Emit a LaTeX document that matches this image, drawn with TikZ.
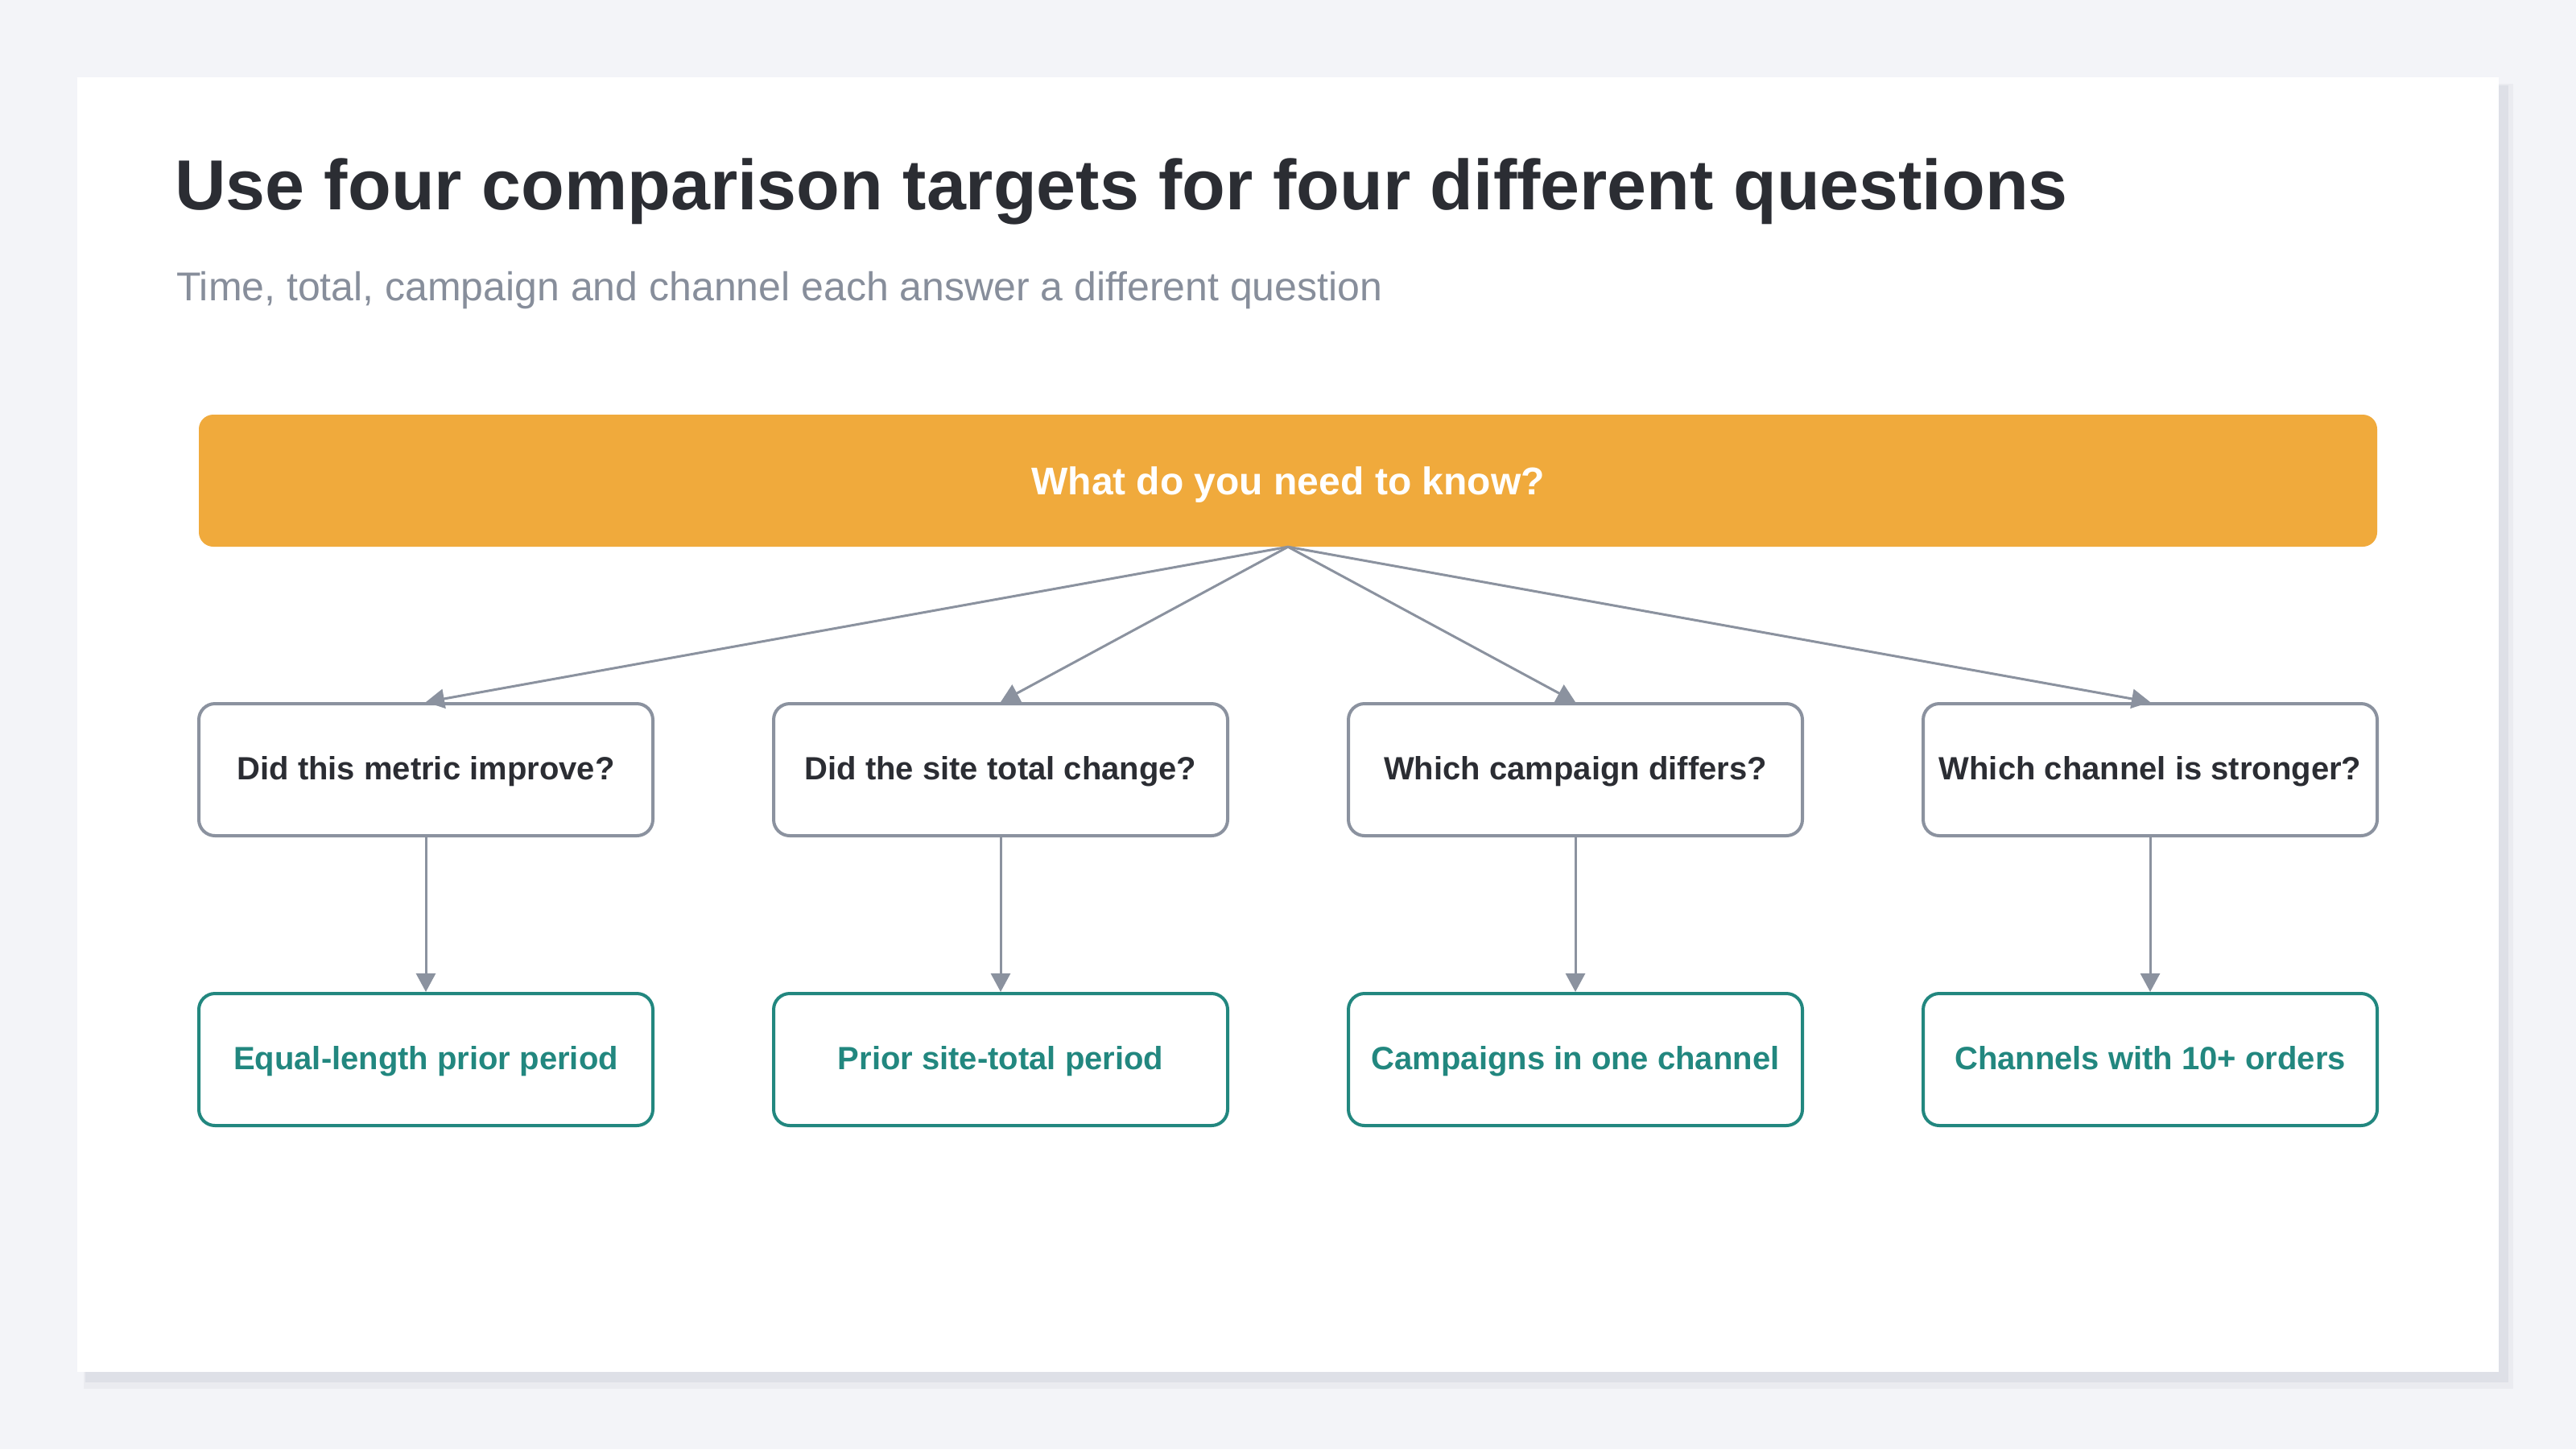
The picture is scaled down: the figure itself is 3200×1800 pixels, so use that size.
\documentclass[tikz,border=0pt]{standalone}
\usepackage{fontspec}
\setmainfont{Liberation Sans}
\usetikzlibrary{arrows.meta,positioning}
\definecolor{pagebg}{HTML}{F3F4F8}
\definecolor{shadowgray}{HTML}{DEE0E7}
\definecolor{shadowlight}{HTML}{EAEBF0}
\definecolor{inkdark}{HTML}{2B2D33}
\definecolor{subgray}{HTML}{878E9B}
\definecolor{edgegray}{HTML}{8B929F}
\definecolor{headorange}{HTML}{F0AA3C}
\definecolor{answerteal}{HTML}{22877F}

\begin{document}
\begin{tikzpicture}[x=1pt,y=-1pt,
    question/.style={draw=edgegray,line width=4pt,rounded corners=20pt,fill=white,
        minimum width=564pt,minimum height=164pt,text=inkdark,
        text height=24pt,text depth=0pt,
        font=\fontsize{40}{48}\selectfont\bfseries},
    answer/.style={question,draw=answerteal,text=answerteal},
    connector/.style={-{Triangle[length=23pt,width=24pt]},line width=3pt,edgegray}]

    % Page and card
    \fill[pagebg] (0,0) rectangle (3200,1800);
    \fill[shadowlight] (104,104) rectangle (3122,1725);
    \fill[shadowgray] (106,106) rectangle (3116,1717);
    \fill[white] (96,96) rectangle (3104,1704);

    % Title
    \node[anchor=base west,inner sep=0pt,text=inkdark,font=\fontsize{88}{100}\selectfont\bfseries] (title) at (217,260) {Use four comparison targets for four different questions};
    \node[anchor=base west,inner sep=0pt,text=subgray,font=\fontsize{50}{60}\selectfont] (subtitle) at (219,373) {Time, total, campaign and channel each answer a different question};

    % Header bar
    \node[fill=headorange,rounded corners=18pt,minimum width=2706pt,minimum height=164pt,
        text height=34pt,text depth=0pt,
        text=white,font=\fontsize{48}{56}\selectfont\bfseries] (need) at (1600,597) {What do you need to know?};

    % Questions and targets
    \foreach \i/\q/\a in {1/{Did this metric improve?}/{Equal-length prior period},
                          2/{Did the site total change?}/{Prior site-total period},
                          3/{Which campaign differs?}/{Campaigns in one channel},
                          4/{Which channel is stronger?}/{Channels with 10+ orders}} {
        \node[question] (q\i) at ({529+714*(\i-1)},956) {\q};
        \node[answer] (a\i) at ({529+714*(\i-1)},1316) {\a};
        \draw[connector] (need.south) -- (q\i.north);
        \draw[connector] (q\i.south) -- (a\i.north);
    }
\end{tikzpicture}
\end{document}
